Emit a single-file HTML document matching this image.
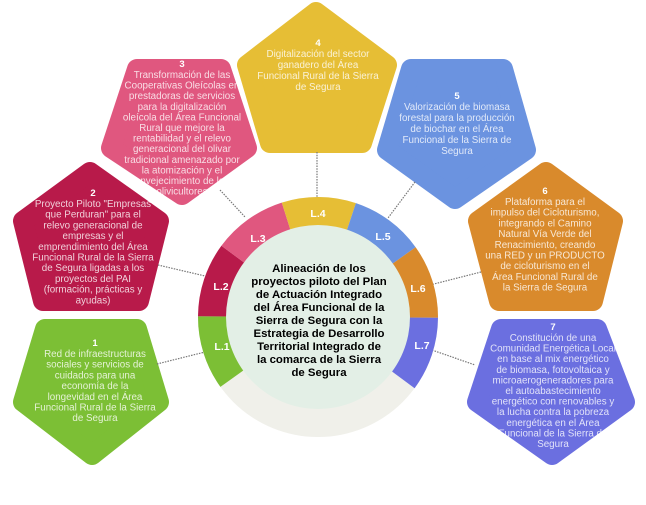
<!DOCTYPE html>
<html><head><meta charset="utf-8"><style>
html,body{margin:0;padding:0;background:#fff;}
svg{display:block;}
.t{font-family:"Liberation Sans",sans-serif;font-size:9.8px;text-anchor:middle;fill:#fff;fill-opacity:.8;}
.n{font-family:"Liberation Sans",sans-serif;font-size:9.5px;font-weight:bold;text-anchor:middle;fill:#fff;}
.l{font-family:"Liberation Sans",sans-serif;font-size:10.5px;font-weight:bold;text-anchor:middle;fill:#fff;}
.c{font-family:"Liberation Sans",sans-serif;font-size:11.4px;font-weight:bold;text-anchor:middle;fill:#000;}
.d{stroke:#777;stroke-width:1.2;stroke-dasharray:1.5 1.2;fill:none;}
</style></head><body>
<svg width="646" height="505" viewBox="0 0 646 505" xmlns="http://www.w3.org/2000/svg">
<g stroke-linejoin="round" stroke-width="20">
<polygon points="316,12 387,65 362,143 270,143 247,65" fill="#e6be35" stroke="#e6be35"/>
<polygon points="137,69 221,69 247,148 182,195 111,148" fill="#e0577f" stroke="#e0577f"/>
<polygon points="411,69 503,69 526,150 455,199 387,150" fill="#6b93e0" stroke="#6b93e0"/>
<polygon points="90,172 159,221 139,301 43,301 23,221" fill="#b81a4a" stroke="#b81a4a"/>
<polygon points="546,172 613,221 593,301 499,301 478,221" fill="#d98a2c" stroke="#d98a2c"/>
<polygon points="45,329 137,329 159,402 92,455 23,402" fill="#7cbf35" stroke="#7cbf35"/>
<polygon points="501,329 597,329 625,402 552,455 477,402" fill="#6b6fe0" stroke="#6b6fe0"/>
</g>
<line class="d" x1="157" y1="364" x2="205" y2="352"/>
<line class="d" x1="158" y1="265" x2="205" y2="276"/>
<line class="d" x1="220" y1="190" x2="245" y2="217"/>
<line class="d" x1="317" y1="152" x2="317" y2="200"/>
<line class="d" x1="415" y1="182" x2="388" y2="218"/>
<line class="d" x1="481" y1="272" x2="430" y2="285"/>
<line class="d" x1="432" y1="350" x2="475" y2="365"/>
<circle cx="318" cy="317" r="120" fill="#f0f0ea"/>
<path d="M318,317 L220.4,386.9 A120,120 0 0 1 198,316.2 Z" fill="#7cbf35"/>
<path d="M318,317 L198,316.2 A120,120 0 0 1 221.4,245.8 Z" fill="#b81a4a"/>
<path d="M318,317 L221.4,245.8 A120,120 0 0 1 281.8,202.6 Z" fill="#e0577f"/>
<path d="M318,317 L281.8,202.6 A120,120 0 0 1 355.9,203.1 Z" fill="#e6be35"/>
<path d="M318,317 L355.9,203.1 A120,120 0 0 1 415.6,247.2 Z" fill="#6b93e0"/>
<path d="M318,317 L415.6,247.2 A120,120 0 0 1 438,317.8 Z" fill="#d98a2c"/>
<path d="M318,317 L438,317.8 A120,120 0 0 1 414.6,388.2 Z" fill="#6b6fe0"/>
<circle cx="318" cy="317" r="92" fill="#e3efe6"/>
<text class="l" x="222" y="350">L.1</text>
<text class="l" x="221" y="290">L.2</text>
<text class="l" x="258" y="242">L.3</text>
<text class="l" x="318" y="217">L.4</text>
<text class="l" x="383" y="240">L.5</text>
<text class="l" x="418" y="292">L.6</text>
<text class="l" x="422" y="349">L.7</text>
<g class="c">
<text x="319" y="272">Alineación de los</text>
<text x="319" y="285">proyectos piloto del Plan</text>
<text x="319" y="298">de Actuación Integrado</text>
<text x="319" y="311">del Área Funcional de la</text>
<text x="319" y="324">Sierra de Segura con la</text>
<text x="319" y="337">Estrategia de Desarrollo</text>
<text x="319" y="350">Territorial Integrado de</text>
<text x="319" y="363">la comarca de la Sierra</text>
<text x="319" y="376">de Segura</text>
</g>
<text class="n" x="318" y="46">4</text>
<g class="t"><text x="318" y="57">Digitalización del sector</text><text x="318" y="68">ganadero del Área</text><text x="318" y="79">Funcional Rural de la Sierra</text><text x="318" y="90">de Segura</text></g>
<text class="n" x="182" y="67">3</text>
<g class="t"><text x="182" y="78">Transformación de las</text><text x="182" y="88.6">Cooperativas Oleícolas en</text><text x="182" y="99.2">prestadoras de servicios</text><text x="182" y="109.8">para la digitalización</text><text x="182" y="120.4">oleícola del Área Funcional</text><text x="182" y="131">Rural que mejore la</text><text x="182" y="141.6">rentabilidad y el relevo</text><text x="182" y="152.2">generacional del olivar</text><text x="182" y="162.8">tradicional amenazado por</text><text x="182" y="173.4">la atomización y el</text><text x="182" y="184">envejecimiento de los</text><text x="182" y="194.6">olivicultores</text></g>
<text class="n" x="457" y="99">5</text>
<g class="t"><text x="457" y="110">Valorización de biomasa</text><text x="457" y="121">forestal para la producción</text><text x="457" y="132">de biochar en el Área</text><text x="457" y="143">Funcional de la Sierra de</text><text x="457" y="154">Segura</text></g>
<text class="n" x="93" y="196">2</text>
<g class="t"><text x="93" y="207">Proyecto Piloto "Empresas</text><text x="93" y="217.7">que Perduran" para el</text><text x="93" y="228.4">relevo generacional de</text><text x="93" y="239.1">empresas y el</text><text x="93" y="249.8">emprendimiento del Área</text><text x="93" y="260.5">Funcional Rural de la Sierra</text><text x="93" y="271.2">de Segura ligadas a los</text><text x="93" y="281.9">proyectos del PAI</text><text x="93" y="292.6">(formación, prácticas y</text><text x="93" y="303.3">ayudas)</text></g>
<text class="n" x="545" y="194">6</text>
<g class="t"><text x="545" y="205">Plataforma para el</text><text x="545" y="215.7">impulso del Cicloturismo,</text><text x="545" y="226.4">integrando el Camino</text><text x="545" y="237.1">Natural Vía Verde del</text><text x="545" y="247.8">Renacimiento, creando</text><text x="545" y="258.5">una RED y un PRODUCTO</text><text x="545" y="269.2">de cicloturismo en el</text><text x="545" y="279.9">Área Funcional Rural de</text><text x="545" y="290.6">la Sierra de Segura</text></g>
<text class="n" x="95" y="346">1</text>
<g class="t"><text x="95" y="357">Red de infraestructuras</text><text x="95" y="367.7">sociales y servicios de</text><text x="95" y="378.4">cuidados para una</text><text x="95" y="389.1">economía de la</text><text x="95" y="399.8">longevidad en el Área</text><text x="95" y="410.5">Funcional Rural de la Sierra</text><text x="95" y="421.2">de Segura</text></g>
<text class="n" x="553" y="330">7</text>
<g class="t"><text x="553" y="341">Constitución de una</text><text x="553" y="351.6">Comunidad Energética Local</text><text x="553" y="362.2">en base al mix energético</text><text x="553" y="372.8">de biomasa, fotovoltaica y</text><text x="553" y="383.4">microaerogeneradores para</text><text x="553" y="394">el autoabastecimiento</text><text x="553" y="404.6">energético con renovables y</text><text x="553" y="415.2">la lucha contra la pobreza</text><text x="553" y="425.8">energética en el Área</text><text x="553" y="436.4">Funcional de la Sierra de</text><text x="553" y="447">Segura</text></g>
</svg>
</body></html>
